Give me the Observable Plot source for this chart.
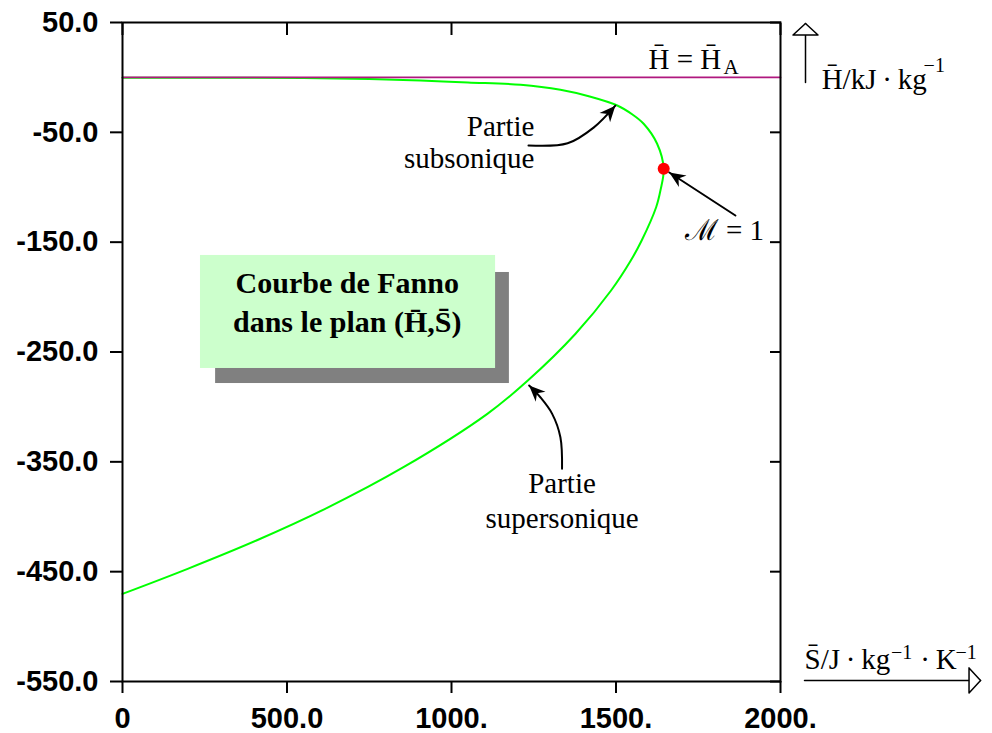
<!DOCTYPE html>
<html><head><meta charset="utf-8">
<script src="https://cdn.jsdelivr.net/npm/d3@7"></script>
<script src="https://cdn.jsdelivr.net/npm/@observablehq/plot@0.6"></script>
<style>body{margin:0;background:#fff}</style>
</head><body><div id="chart"></div>
<script>
// ---- data ----
const xTicks = [0, 500, 1000, 1500, 2000];
const xTickLabels = ["0", "500.0", "1000.", "1500.", "2000."];
const yTicks = [50, -50, -150, -250, -350, -450, -550];
const yTickLabels = ["50.0", "-50.0", "-150.0", "-250.0", "-350.0", "-450.0", "-550.0"];

// Fanno curve (S in J/kg/K, H in kJ/kg)
const subsonicS = [0, 300, 550, 750, 906, 1050, 1210, 1331, 1420, 1504, 1550, 1584, 1625, 1645];
const subsonicH = [-0.3, -0.3, -0.5, -1.5, -2.8, -4.6, -6.7, -11.3, -17.4, -25.6, -33.8, -42.2, -60.4, -83.2];
const supersonicS = [1645, 1635, 1622, 1578, 1545, 1485, 1377, 1232, 1109, 854, 616, 407, 198, 0];
const supersonicH = [-83.2, -103.0, -118.2, -148.5, -166.7, -194.0, -233.4, -276.0, -306.3, -354.9, -392.8, -421.6, -447.4, -470.2];
const sonicS = [1645];
const sonicH = [-83.2];
const refLineS = [0, 2000];
const refLineH = [0, 0];

// ---- annotation placement (data coordinates) ----
const subArrow = [[1234, -62], [1353, -60], [1432, -45.7], [1498, -25.7]];
const supArrow = [[1336, -356.4], [1331, -327.6], [1306, -306.3], [1270, -291.2], [1236, -280.5]];
const machArrow = [[1863, -125.7], [1662, -86.6]];
const yAxisArrow = [[2076, -4.6], [2076, 49.1]];
const xAxisArrow = [[2073, -549], [2608, -549]];
const boxShadow = [{x1: 283, x2: 1176, y1: -177.6, y2: -278.7}];
const boxFront = [{x1: 237, x2: 1134, y1: -162.1, y2: -265.0}];

const curve = [
  ...subsonicS.map((s, i) => ({S: s, H: subsonicH[i]})),
  ...supersonicS.slice(1).map((s, i) => ({S: s, H: supersonicH[i + 1]}))
];
const sonic = sonicS.map((s, i) => ({S: s, H: sonicH[i]}));
const refLine = refLineS.map((s, i) => ({S: s, H: refLineH[i]}));

const SVGNS = "http://www.w3.org/2000/svg";
function makeMarker(context, d, fill, stroke, vb, w, h) {
  const doc = (context && context.document) || document;
  const m = doc.createElementNS(SVGNS, "marker");
  m.setAttribute("viewBox", vb);
  m.setAttribute("markerWidth", w);
  m.setAttribute("markerHeight", h);
  m.setAttribute("markerUnits", "userSpaceOnUse");
  m.setAttribute("orient", "auto");
  m.setAttribute("refX", 0);
  m.setAttribute("refY", 0);
  const p = doc.createElementNS(SVGNS, "path");
  p.setAttribute("d", d);
  p.setAttribute("fill", fill);
  p.setAttribute("stroke", stroke);
  p.setAttribute("stroke-width", 1.5);
  m.appendChild(p);
  return m;
}
const stealth = (color, context) => makeMarker(context, "M0,0L-16,-7L-11,0L-16,7Z", "black", "none", "-18 -9 20 18", 20, 18);
const openTri = (color, context) => makeMarker(context, "M0,0L-11.5,-12.5L-11.5,12.5Z", "white", "black", "-14 -15 16 30", 16, 30);

const serif = "'Liberation Serif', 'Times New Roman', serif";
const sans = "'Liberation Sans', Arial, sans-serif";
const T = (str, x, y, opts = {}) => Plot.text([str], {x, y, text: d => d, lineAnchor: "bottom", fontFamily: serif, fontSize: 29, textAnchor: "start", ...opts});

const plot = Plot.plot({
  width: 992,
  height: 733,
  marginLeft: 122,
  marginRight: 212,
  marginTop: 22,
  marginBottom: 52,
  style: {background: "white", color: "black", fontFamily: sans},
  x: {domain: [0, 2000]},
  y: {domain: [-550, 50]},
  marks: [
    // annotation box
    Plot.rect(boxShadow, {x1: "x1", x2: "x2", y1: "y1", y2: "y2", fill: "#808080"}),
    Plot.rect(boxFront, {x1: "x1", x2: "x2", y1: "y1", y2: "y2", fill: "#ccffcc"}),
    T("Courbe de Fanno", 683, -196.7, {textAnchor: "middle", fontWeight: "bold", fontSize: 30}),
    T("dans le plan (H\u0304,S\u0304)", 683, -232, {textAnchor: "middle", fontWeight: "bold", fontSize: 30}),
    // curves
    Plot.line(curve, {x: "S", y: "H", stroke: "#00ff00", strokeWidth: 2, curve: "catmull-rom"}),
    Plot.line(refLine, {x: "S", y: "H", stroke: "#b0187f", strokeWidth: 1.8}),
    Plot.dot(sonic, {x: "S", y: "H", r: 6, fill: "#ff0000"}),
    // frame and axes
    Plot.frame({stroke: "black", strokeWidth: 2}),
    Plot.axisY(yTicks, {anchor: "left", tickSize: 12, tickPadding: 12, strokeWidth: 2, label: null,
      tickFormat: d => yTickLabels[yTicks.indexOf(d)], fontSize: 29, fontWeight: "bold", fontFamily: sans}),
    Plot.axisY(yTicks, {anchor: "right", tickSize: -11, strokeWidth: 2, label: null, tickFormat: () => ""}),
    Plot.axisX(xTicks, {anchor: "top", tickSize: -12, strokeWidth: 2, label: null, tickFormat: () => ""}),
    Plot.axisX(xTicks, {anchor: "bottom", tickSize: 12, tickPadding: 14, strokeWidth: 2, label: null,
      tickFormat: d => xTickLabels[xTicks.indexOf(d)], fontSize: 29, fontWeight: "bold", fontFamily: sans}),
    // annotations
    T("H\u0304 = H\u0304", 1599, 8.1),
    T("A", 1827, 2.7, {fontSize: 21}),
    T("Partie", 1252, -52.9, {textAnchor: "end"}),
    T("subsonique", 1252, -82.9, {textAnchor: "end"}),
    T("Partie", 1336, -378.8, {textAnchor: "middle"}),
    T("supersonique", 1336, -409.8, {textAnchor: "middle"}),
    T("\u2133 = 1", 1950, -147.6, {textAnchor: "end"}),
    Plot.line(subArrow, {stroke: "black", strokeWidth: 2, curve: "catmull-rom", markerEnd: stealth}),
    Plot.line(supArrow, {stroke: "black", strokeWidth: 2, curve: "catmull-rom", markerEnd: stealth}),
    Plot.line(machArrow, {stroke: "black", strokeWidth: 2, markerEnd: stealth}),
    // axis name arrows and labels
    Plot.line(yAxisArrow, {stroke: "black", strokeWidth: 1.5, markerEnd: openTri}),
    Plot.line(xAxisArrow, {stroke: "black", strokeWidth: 1.5, markerEnd: openTri}),
    T("H\u0304/kJ\u2009\u00b7\u2009kg", 2125, -10.1),
    T("\u22121", 2435, 4.5, {fontSize: 20}),
    T("S\u0304/J\u2009\u00b7\u2009kg", 2073, -538.2),
    T("\u22121", 2336, -529.1, {fontSize: 20}),
    T("\u00b7\u2009K", 2425, -538.2),
    T("\u22121", 2532, -529.1, {fontSize: 20})
  ]
});
document.getElementById("chart").appendChild(plot);
</script>
</body></html>
